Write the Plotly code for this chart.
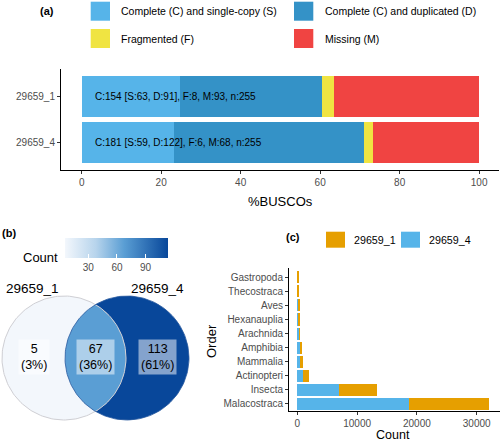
import numpy as np
import plotly.graph_objects as go
from plotly.colors import sample_colorscale

W, H = 500, 442
FONT = "Liberation Sans, Arial, sans-serif"


def px(x):
    return x / W


def py(y):
    return 1 - y / H


# ---------------- data ----------------
# panel (a): BUSCO
samples = ["29659_1", "29659_4"]
busco_labels = ["Complete (C) and single-copy (S)", "Complete (C) and duplicated (D)",
                "Fragmented (F)", "Missing (M)"]
busco_S = [63, 59]
busco_D = [91, 122]
busco_F = [8, 6]
busco_M = [93, 68]
busco_n = [255, 255]
busco_colors = ["#56B4E9", "#3492C7", "#F0E442", "#F04442"]

# panel (b): Venn
venn_sets = ["29659_1", "29659_4"]
venn_counts = [5, 67, 113]  # only 29659_1, shared, only 29659_4
venn_colorscale = [[0.0, "#F3F7FC"], [0.3, "#B7D4EC"], [0.574, "#5A9ED4"], [1.0, "#08479A"]]

# panel (c): taxonomic orders
orders = ["Gastropoda", "Thecostraca", "Aves", "Hexanauplia", "Arachnida",
          "Amphibia", "Mammalia", "Actinopteri", "Insecta", "Malacostraca"]
count_29659_4 = [80, 100, 150, 80, 350, 450, 500, 1000, 7000, 18600]
count_29659_1 = [170, 180, 150, 420, 100, 400, 450, 1000, 6400, 13500]
order_series = ["29659_1", "29659_4"]
order_colors = ["#E69F00", "#56B4E9"]

fig = go.Figure()


def note(x, y, text, size, **kw):
    kw.setdefault("xanchor", "center")
    kw.setdefault("yanchor", "middle")
    fig.add_annotation(x=px(x), y=py(y), xref="paper", yref="paper", text=text, showarrow=False,
                       font=dict(size=size, color="black", family=FONT), **kw)


# ---------------- panel (a) ----------------
busco_vals = [busco_S, busco_D, busco_F, busco_M]
for lab, vals, col in zip(busco_labels, busco_vals, busco_colors):
    pct = [v / n * 100 for v, n in zip(vals, busco_n)]
    fig.add_trace(go.Bar(y=samples, x=pct, orientation="h", name=lab,
                         marker=dict(color=col, line=dict(width=0)), width=0.88,
                         xaxis="x", yaxis="y", showlegend=False, hoverinfo="x+name"))

for i, s in enumerate(samples):
    txt = f"C:{busco_S[i] + busco_D[i]} [S:{busco_S[i]}, D:{busco_D[i]}], F:{busco_F[i]}, M:{busco_M[i]}, n:{busco_n[i]}"
    fig.add_annotation(x=2.8, y=s, xref="x", yref="y", text=txt, showarrow=False,
                       xanchor="left", yanchor="middle",
                       font=dict(size=10, color="black", family=FONT))

# legend for (a)
leg_pos = [(90.7, 1.7, 119.3), (294, 1.7, 322.7), (90.7, 29, 119.3), (294, 29, 322.7)]
for (x0, y0, tx), lab, col in zip(leg_pos, busco_labels, busco_colors):
    fig.add_shape(type="rect", xref="paper", yref="paper", x0=px(x0), x1=px(x0 + 19.3),
                  y0=py(y0), y1=py(y0 + 19), fillcolor=col, line=dict(width=0))
    note(tx, y0 + 9.5, lab, 10.5, xanchor="left")

# ---------------- panel (c) ----------------
fig.add_trace(go.Bar(y=orders, x=count_29659_4, orientation="h", name=order_series[1],
                     marker=dict(color=order_colors[1], line=dict(width=0)), width=0.86,
                     xaxis="x2", yaxis="y2", showlegend=False))
fig.add_trace(go.Bar(y=orders, x=count_29659_1, orientation="h", name=order_series[0],
                     marker=dict(color=order_colors[0], line=dict(width=0)), width=0.86,
                     xaxis="x2", yaxis="y2", showlegend=False))

for (x0, tx), lab, col in zip([(326, 351.7), (401, 426.7)], order_series, order_colors):
    fig.add_shape(type="rect", xref="paper", yref="paper", x0=px(x0), x1=px(x0 + 19),
                  y0=py(231.7), y1=py(247.7), fillcolor=col, line=dict(width=0))
    note(tx, 239.7, lab, 10.7, xanchor="left")

# ---------------- panel (b): Venn ----------------
c1 = np.array([64.0, -358.0])
c2 = np.array([127.0, -358.0])
r = 62.0
d = c2[0] - c1[0]
th0 = np.arccos((d / 2) / r)


def arc(c, a0, a1, n=80):
    t = np.linspace(a0, a1, n)
    return c[0] + r * np.cos(t), c[1] + r * np.sin(t)


# left-only
xa, ya = arc(c1, th0, 2 * np.pi - th0)
xb, yb = arc(c2, np.pi + th0, np.pi - th0)
left_only = (np.concatenate([xa, xb]), np.concatenate([ya, yb]))
# shared
xa, ya = arc(c1, -th0, th0)
xb, yb = arc(c2, np.pi - th0, np.pi + th0)
shared = (np.concatenate([xa, xb]), np.concatenate([ya, yb]))
# right-only
xa, ya = arc(c2, np.pi - th0, -np.pi + th0)
xb, yb = arc(c1, -th0, th0)
right_only = (np.concatenate([xa, xb]), np.concatenate([ya, yb]))

cmin, cmax = min(venn_counts), max(venn_counts)
region_cols = sample_colorscale(venn_colorscale, [(c - cmin) / (cmax - cmin) for c in venn_counts])
for poly, col in zip([left_only, shared, right_only], region_cols):
    fig.add_trace(go.Scatter(x=poly[0], y=poly[1], mode="lines", fill="toself", fillcolor=col,
                             line=dict(width=0, color=col), xaxis="x3", yaxis="y3",
                             showlegend=False, hoverinfo="skip"))

# circle outlines
ox, oy = arc(c1, 0, 2 * np.pi, 200)
fig.add_trace(go.Scatter(x=ox, y=oy, mode="lines", line=dict(width=1, color="#CFCFD4"),
                         xaxis="x3", yaxis="y3", showlegend=False, hoverinfo="skip"))
ox, oy = arc(c2, 0, 2 * np.pi, 200)
fig.add_trace(go.Scatter(x=ox, y=oy, mode="lines", line=dict(width=0.8, color="#2A5AA0"),
                         xaxis="x3", yaxis="y3", showlegend=False, hoverinfo="skip"))

# region labels
total = sum(venn_counts)
label_x = [((c1[0] - r) + (c2[0] - r)) / 2, (c1[0] + c2[0]) / 2, ((c1[0] + r) + (c2[0] + r)) / 2]
for lx, c in zip(label_x, venn_counts):
    fig.add_annotation(x=lx, y=c1[1] + 1, xref="x3", yref="y3",
                       text=f"{c}<br>({round(c / total * 100)}%)", showarrow=False,
                       xanchor="center", yanchor="middle",
                       bgcolor="rgba(255,255,255,0.5)", borderpad=2,
                       font=dict(size=12.5, color="black", family=FONT))

# colour-bar carrier
fig.add_trace(go.Scatter(x=label_x, y=[c1[1]] * 3, mode="markers", xaxis="x3", yaxis="y3",
                         marker=dict(size=1, opacity=0, color=venn_counts, colorscale=venn_colorscale,
                                     cmin=cmin, cmax=cmax, showscale=True,
                                     colorbar=dict(orientation="h", x=px(116), xanchor="center",
                                                   y=py(238), yanchor="top", len=103, lenmode="pixels",
                                                   thickness=20, thicknessmode="pixels", outlinewidth=0,
                                                   tickvals=[30, 60, 90], ticks="inside", ticklen=4,
                                                   tickcolor="white", xpad=0, ypad=0,
                                                   tickfont=dict(size=10, color="#4D4D4D", family=FONT))),
                         showlegend=False, hoverinfo="skip"))

for nm, lx in zip(venn_sets, [32.5, 157]):
    note(lx, 288, nm, 13.5)
note(40.7, 257, "Count", 13)

# ---------------- titles / panel labels ----------------
note(280, 202, "%BUSCOs", 13)
note(393, 434.5, "Count", 12.5)
note(211, 341, "Order", 13, textangle=-90)
for t, x, y in [("(a)", 46.5, 11), ("(b)", 8.5, 233), ("(c)", 293.3, 236.7)]:
    note(x, y, f"<b>{t}</b>", 11)

axis_common = dict(showgrid=False, zeroline=False, showline=True, linecolor="black", linewidth=1,
                   ticks="outside", ticklen=3, tickcolor="#333333",
                   tickfont=dict(size=10, color="#4D4D4D", family=FONT))

fig.update_layout(
    width=W, height=H, autosize=False, margin=dict(l=0, r=0, t=0, b=0),
    paper_bgcolor="white", plot_bgcolor="white", barmode="stack", bargap=0,
    font=dict(family=FONT),
    xaxis=dict(domain=[px(61), px(499)], range=[-5.2, 105], tickvals=[0, 20, 40, 60, 80, 100],
               anchor="y", **axis_common),
    yaxis=dict(domain=[py(170), py(69)], range=[1.58, -0.58], type="category",
               categoryorder="array", categoryarray=samples, anchor="x", **axis_common),
    xaxis2=dict(domain=[px(289), px(500)], range=[-1390, 33900], tickvals=[0, 10000, 20000, 30000],
                tickformat="d", anchor="y2", **axis_common),
    yaxis2=dict(domain=[py(410.7), py(268)], range=[-0.48, 9.66], type="category",
                categoryorder="array", categoryarray=orders[::-1], anchor="x2", **axis_common),
    xaxis3=dict(domain=[0, px(200)], range=[0, 200], visible=False, anchor="y3"),
    yaxis3=dict(domain=[py(430), py(285)], range=[-430, -285], visible=False, anchor="x3"),
)

fig.write_html("out.html", config={"displayModeBar": False},
               post_script="document.body.style.margin='0';document.body.style.overflow='hidden';")
